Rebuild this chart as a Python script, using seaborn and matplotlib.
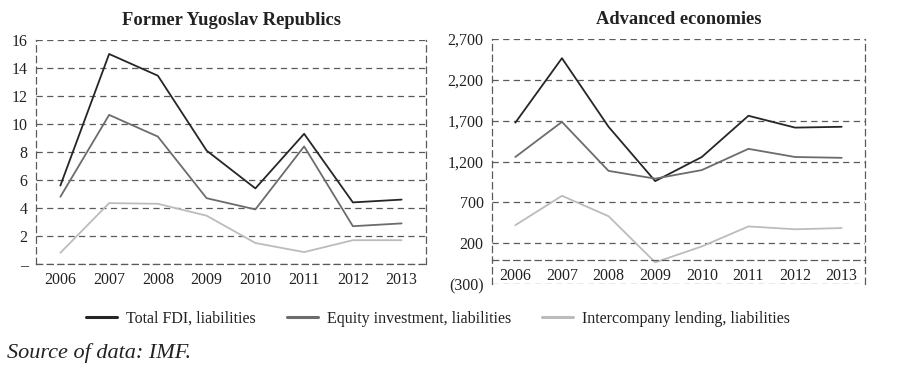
import matplotlib
matplotlib.use("Agg")
import matplotlib.pyplot as plt
import matplotlib.ticker as mticker
import numpy as np
import pandas as pd
import seaborn as sns

years = ["2006", "2007", "2008", "2009", "2010", "2011", "2012", "2013"]
series_names = ["Total FDI, liabilities", "Equity investment, liabilities",
                "Intercompany lending, liabilities"]

# Former Yugoslav Republics
yu_total = [5.6, 15.0, 13.45, 8.1, 5.4, 9.3, 4.4, 4.6]
yu_equity = [4.8, 10.65, 9.1, 4.7, 3.9, 8.4, 2.7, 2.9]
yu_lending = [0.8, 4.35, 4.3, 3.45, 1.5, 0.85, 1.7, 1.7]

# Advanced economies
adv_total = [1675, 2465, 1625, 960, 1255, 1760, 1615, 1625]
adv_equity = [1255, 1685, 1085, 990, 1095, 1355, 1255, 1245]
adv_lending = [420, 780, 530, -35, 160, 405, 370, 385]

yu_ticks = [0, 2, 4, 6, 8, 10, 12, 14, 16]
adv_ticks = [-300, 200, 700, 1200, 1700, 2200, 2700]

colors = ["#262626", "#6c6c6c", "#bcbcbc"]
grid_kw = dict(color="#5a5a5a", linestyle=(0, (5, 3.5)), linewidth=0.9)


def long_df(total, equity, lending):
    rows = []
    for name, vals in zip(series_names, [total, equity, lending]):
        for i, v in enumerate(vals):
            rows.append({"year": years[i], "pos": i, "value": v, "series": name})
    return pd.DataFrame(rows)


sns.set_style("white")
plt.rcParams["font.family"] = ["Liberation Serif", "DejaVu Serif"]

fig = plt.figure(figsize=(9, 3.74), dpi=100)
W, H = 900, 374
ax1 = fig.add_axes([36 / W, (H - 264) / H, (426 - 36) / W, (264 - 40) / H])
ax2 = fig.add_axes([492 / W, (H - 284) / H, (865 - 492) / W, (284 - 39) / H])


def style_axis(ax, df, ticks, fmt, title):
    sns.lineplot(data=df, x="pos", y="value", hue="series", palette=colors,
                 linewidth=1.3, ax=ax, legend=False)
    ax.set_xlim(-0.5, len(years) - 0.5)
    ax.set_ylim(ticks[0], ticks[-1])
    ax.set_yticks(ticks)
    ax.yaxis.set_major_formatter(mticker.FuncFormatter(fmt))
    for t in ticks:
        ax.axhline(t, zorder=0, **grid_kw)
    ax.set_xticks(range(len(years)))
    ax.set_xticklabels(years)
    ax.set_xticks(np.arange(-0.5, len(years)), minor=True)
    ax.tick_params(axis="x", which="major", length=0, labelsize=11.5, pad=6, colors="#222222")
    ax.tick_params(axis="x", which="minor", length=4, width=0.9, color="#5a5a5a", direction="out")
    ax.tick_params(axis="y", length=4, width=0.9, labelsize=11.5, pad=2,
                   colors="#5a5a5a", labelcolor="#222222")
    ax.spines["top"].set_visible(False)
    for s in ["left", "right", "bottom"]:
        ax.spines[s].set_color("#5a5a5a")
        ax.spines[s].set_linewidth(0.9)
        ax.spines[s].set_linestyle((0, (5, 3.5)))
    ax.spines["bottom"].set_position(("data", 0))
    ax.set_xlabel("")
    ax.set_ylabel("")
    ax.set_title(title, fontsize=13.3, fontweight="bold", pad=10.5, color="#222222")


style_axis(ax1, long_df(yu_total, yu_equity, yu_lending), yu_ticks,
           lambda v, p: "\u2013" if v == 0 else f"{v:g}", "Former Yugoslav Republics")
style_axis(ax2, long_df(adv_total, adv_equity, adv_lending), adv_ticks,
           lambda v, p: f"({abs(v):,.0f})" if v < 0 else f"{v:,.0f}", "Advanced economies")

handles = [plt.Line2D([], [], color=c, linewidth=2.2) for c in colors]
fig.legend(handles, series_names, loc="center", bbox_to_anchor=(438 / W, 1 - 319 / H),
           ncol=3, frameon=False, fontsize=11.5, handlelength=1.95, handletextpad=0.55,
           columnspacing=1.95, labelcolor="#222222")

fig.text(7 / W, 1 - 353 / H, "Source of data: IMF.", fontsize=16, style="italic",
         ha="left", va="center", color="#222222")

fig.savefig("out.png", dpi=100)
